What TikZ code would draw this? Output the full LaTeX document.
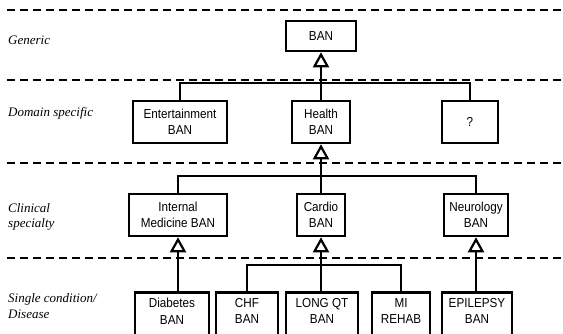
\documentclass[tikz,border=0pt]{standalone}
\usepackage{fontspec}
\setmainfont{Liberation Serif}
\newfontfamily\boxfont[FakeStretch=0.9]{Liberation Sans}
\usetikzlibrary{arrows.meta}
\tikzset{
  box/.style={draw, line width=2.5pt, align=center, inner xsep=2pt, inner ysep=2pt,
    font=\boxfont\fontsize{13}{16.5}\selectfont},
  topbox/.style={box, anchor=north, inner ysep=6pt, text depth=36pt},
  lvl/.style={anchor=west, align=left, inner sep=0pt, font=\itshape\fontsize{13}{15.5}\selectfont},
  sep/.style={line width=1.5pt, dash pattern=on 8pt off 5pt},
  conn/.style={line width=2.5pt},
  inh/.style={conn, -{Triangle[open, length=15pt, width=16pt, line width=2.2pt]}},
}
\begin{document}
\begin{tikzpicture}[x=1pt,y=-1pt]
\clip (0,0) rectangle (563,333);
% separators
\foreach \yy in {10,80,163,258} \draw[sep] (7,\yy) -- (563,\yy);
% level labels
\node[lvl] (l1) at (8,40) {Generic};
\node[lvl] (l2) at (8,113) {Domain specific};
\node[lvl] (l3) at (8,217) {Clinical\\specialty};
\node[lvl] (l4) at (8,306) {Single condition/\\Disease};
% generic
\node[box, minimum width=70pt, minimum height=30pt] (ban) at (321,36) {BAN};
% domain
\node[box, minimum width=94pt, minimum height=42pt] (ent) at (180,122) {Entertainment\\BAN};
\node[box, minimum width=58pt, minimum height=42pt] (hea) at (321,122) {Health\\BAN};
\node[box, minimum width=56pt, minimum height=42pt] (unk) at (470,122) {?};
% clinical
\node[box, minimum width=98pt, minimum height=42pt] (im) at (178,215) {Internal\\Medicine BAN};
\node[box, minimum width=48pt, minimum height=42pt] (car) at (321,215) {Cardio\\BAN};
\node[box, minimum width=64pt, minimum height=42pt] (neu) at (476,215) {Neurology\\BAN};
% disease
\node[topbox, minimum width=74pt] (dia) at (172,291) {Diabetes\\BAN};
\node[topbox, minimum width=62pt] (chf) at (247,291) {CHF\\BAN};
\node[topbox, minimum width=72pt] (lqt) at (322,291) {LONG QT\\BAN};
\node[topbox, minimum width=58pt] (mir) at (401,291) {MI\\REHAB};
\node[topbox, minimum width=70pt] (epi) at (477,291) {EPILEPSY\\BAN};
% junctions
\coordinate (j1) at (321,83);
\coordinate (j2) at (321,176);
\coordinate (j3) at (321,265);
% connectors
\draw[conn] (ent.north) |- (j1) -| (unk.north);
\draw[inh] (hea.north) -- (ban.south);
\draw[conn] (im.north) |- (j2) -| (neu.north);
\draw[inh] (car.north) -- (hea.south);
\draw[conn] (chf.north) |- (j3) -| (mir.north);
\draw[inh] (car.south |- lqt.north) -- (car.south);
\draw[inh] (im.south |- dia.north) -- (im.south);
\draw[inh] (neu.south |- epi.north) -- (neu.south);
\end{tikzpicture}
\end{document}
